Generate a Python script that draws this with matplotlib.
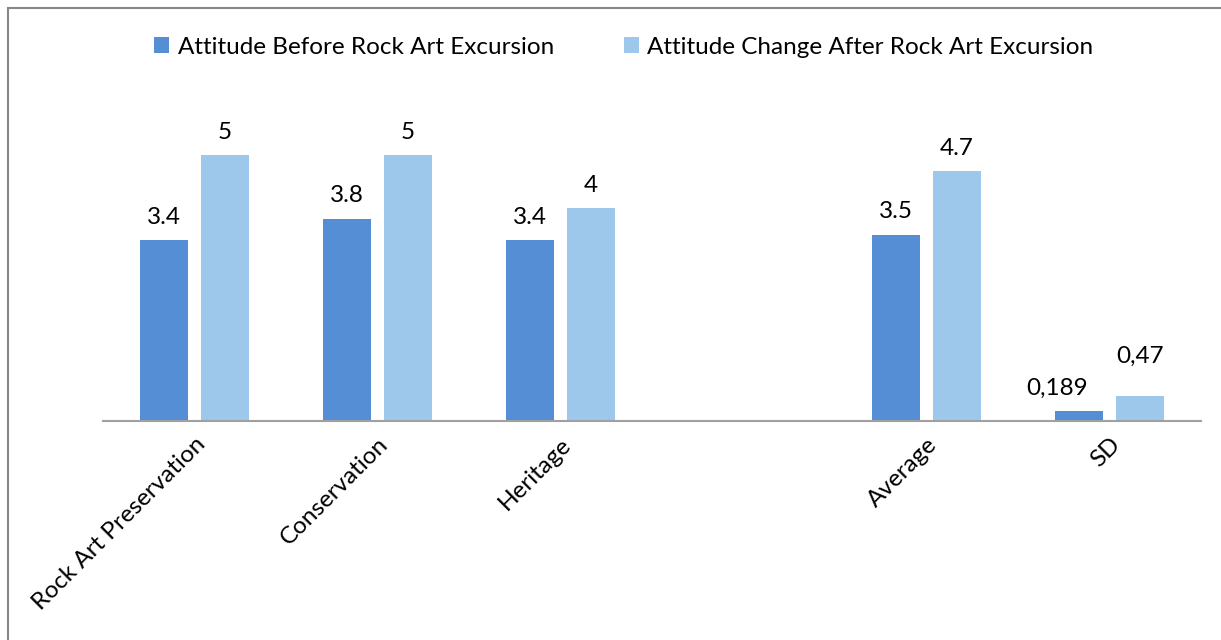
import numpy as np
import matplotlib.pyplot as plt
from matplotlib.patches import Rectangle

plt.rcParams['font.family'] = ['Lato', 'DejaVu Sans']

categories = ['Rock Art Preservation', 'Conservation', 'Heritage', '', 'Average', 'SD']
before = [3.4, 3.8, 3.4, np.nan, 3.5, 0.189]
after = [5, 5, 4, np.nan, 4.7, 0.47]
before_labels = ['3.4', '3.8', '3.4', '', '3.5', '0,189']
after_labels = ['5', '5', '4', '', '4.7', '0,47']
series_names = ['Attitude Before Rock Art Excursion',
                'Attitude Change After Rock Art Excursion']

c_before = '#558ED5'
c_after = '#9DC8EB'
fs = 17.5

fig = plt.figure(figsize=(12.21, 6.4), dpi=100)
ax = fig.add_axes([103 / 1221, 219 / 640, 1098 / 1221, 319 / 640])

x = np.arange(len(categories))
w = 0.262
off = 0.166
b1 = ax.bar(x - off, before, w, color=c_before, label=series_names[0])
b2 = ax.bar(x + off, after, w, color=c_after, label=series_names[1])

# data labels; the small SD labels are nudged apart like in the original
for i, (v, s) in enumerate(zip(before, before_labels)):
    if not np.isnan(v):
        dx = -16 if i == 5 else 0
        ax.annotate(s, (x[i] - off, v), xytext=(dx, 9), textcoords='offset points',
                    ha='center', va='bottom', fontsize=fs)
for i, (v, s) in enumerate(zip(after, after_labels)):
    if not np.isnan(v):
        dy = 21 if i == 5 else 9
        ax.annotate(s, (x[i] + off, v), xytext=(0, dy), textcoords='offset points',
                    ha='center', va='bottom', fontsize=fs)

ax.set_xlim(-0.5, 5.5)
ax.set_ylim(0, 6)
ax.set_yticks([])
ax.set_xticks(x)
ax.set_xticklabels(categories, rotation=45, ha='right', rotation_mode='anchor',
                   fontsize=fs)
ax.tick_params(axis='x', length=0, pad=9)
for s in ['top', 'left', 'right']:
    ax.spines[s].set_visible(False)
ax.spines['bottom'].set_color('#A0A0A0')
ax.spines['bottom'].set_linewidth(1.5)

fig.legend(handles=[b1, b2], loc='center', bbox_to_anchor=(624 / 1221, 1 - 47 / 640),
           ncol=2, frameon=False, fontsize=fs, handlelength=0.6,
           handleheight=0.6, handletextpad=0.35, columnspacing=2.9)

# outer chart border
fig.patches.append(Rectangle((8 / 1221, -0.1), 1.2, 1 - 8 / 640 + 0.1,
                             transform=fig.transFigure, fill=False,
                             edgecolor='#878787', linewidth=1.5))

fig.savefig('out.png', dpi=100)
